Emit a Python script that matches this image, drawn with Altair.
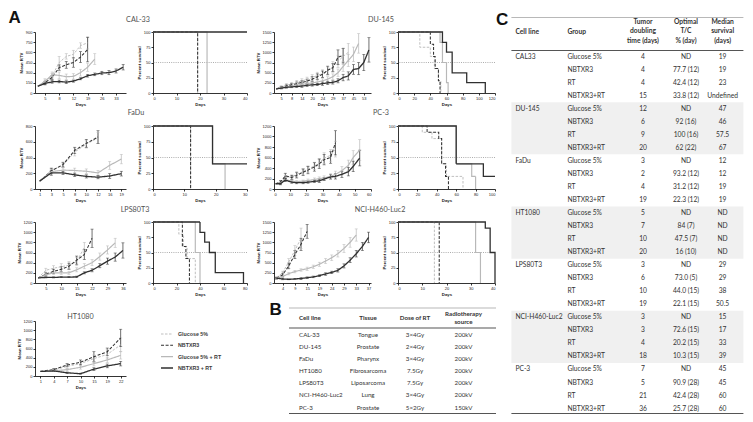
import altair as alt
import pandas as pd

SERIES = ["Glucose 5%", "NBTXR3", "Glucose 5% + RT", "NBTXR3 + RT"]
COLORS = ["#b8b8b8", "#303030", "#b8b8b8", "#303030"]
DASHES = [[2.5, 1.5], [3, 1.6], [1, 0], [1, 0]]
WIDTHS = [0.9, 1.3, 0.9, 1.3]

# ---------------- growth curves (mean RTV) ----------------
cal_days = [1, 5, 6, 8, 10, 12, 15, 19, 22, 26, 29, 33, 36]
cal_ticks = [5, 8, 12, 19, 26, 33]
cal_glu = [100, 180, 250, 450, 540, 570, 700, 740]
cal_glu_err = [0, 30, 40, 90, 40, 60, 40, 90]
cal_nbt = [100, 150, 230, 375, 415, 450, 530, 640]
cal_nbt_err = [0, 20, 30, 40, 50, 70, 80, 180]
cal_rt = [100, 170, 270, 260, 240, 245, 300, 380, 500]
cal_rt_err = [0, 20, 40, 50, 40, 40, 50, 60, 80]
cal_cmb = [100, 140, 165, 170, 160, 175, 210, 255, 275, 295, 300, 325, 380]
cal_cmb_err = [0, 20, 20, 20, 20, 15, 15, 20, 20, 25, 30, 30, 40]

du_days = [1, 5, 6, 8, 12, 14, 17, 20, 22, 24, 27, 29, 33, 37, 41, 45, 49, 53, 56]
du_ticks = [5, 8, 14, 20, 24, 29, 37, 45, 53]
du_glu = [100, 150, 190, 220, 260, 300, 330, 380, 430, 480, 540, 650, 780, 900, 1000]
du_glu_err = [0, 30, 40, 40, 50, 50, 60, 70, 80, 90, 100, 120, 150, 200, 220]
du_nbt = [100, 140, 170, 200, 230, 260, 290, 340, 400, 460, 560, 620, 880, 920]
du_nbt_err = [0, 20, 30, 30, 40, 40, 50, 60, 70, 80, 100, 100, 180, 180]
du_rt = [100, 130, 150, 170, 190, 210, 230, 250, 270, 300, 340, 400, 500, 650, 800, 950, 1220]
du_rt_err = [0, 20, 20, 30, 30, 30, 40, 40, 50, 50, 60, 70, 90, 120, 150, 180, 240]
du_cmb = [100, 120, 140, 150, 160, 170, 190, 200, 210, 230, 250, 260, 300, 380, 420, 580, 600, 750, 1060]
du_cmb_err = [0, 20, 20, 20, 20, 30, 30, 30, 30, 40, 40, 40, 50, 80, 100, 120, 150, 200, 300]

fadu_days = [1, 3, 5, 8, 10, 12, 16, 19]
fadu_ticks = [1, 3, 5, 8, 10, 12, 16, 19]
fadu_glu = [100, 240, 300, 470, 570, 650]
fadu_glu_err = [0, 30, 30, 50, 50, 70]
fadu_nbt = [100, 230, 310, 490, 580, 660]
fadu_nbt_err = [0, 30, 30, 40, 50, 80]
fadu_rt = [100, 220, 240, 235, 225, 205, 300, 380]
fadu_rt_err = [0, 30, 30, 30, 30, 30, 50, 60]
fadu_cmb = [100, 205, 205, 180, 160, 150, 165, 195]
fadu_cmb_err = [0, 30, 20, 20, 20, 20, 30, 30]

pc_days = [1, 4, 7, 11, 14, 18, 21, 25, 28, 31, 35, 38, 42, 46, 49, 53]
pc_ticks = [0, 10, 20, 30, 40, 50, 60]
pc_glu = [100, 120, 220, 230, 280, 330, 380, 440, 500, 590, 640, 760]
pc_glu_err = [0, 30, 40, 40, 50, 60, 60, 70, 80, 100, 110, 150]
pc_nbt = [100, 130, 250, 220, 260, 320, 360, 420, 480, 560, 600, 880]
pc_nbt_err = [0, 30, 50, 40, 50, 60, 70, 80, 90, 100, 110, 230]
pc_rt = [100, 110, 180, 150, 140, 150, 160, 180, 200, 210, 240, 280, 350, 450, 600, 740]
pc_rt_err = [0, 20, 30, 20, 20, 20, 30, 30, 30, 40, 50, 60, 80, 100, 130, 200]
pc_cmb = [100, 100, 170, 130, 120, 120, 130, 145, 155, 190, 230, 240, 280, 330, 430, 590]
pc_cmb_err = [0, 20, 30, 20, 20, 20, 20, 20, 30, 30, 40, 50, 60, 80, 100, 150]

lps_days = [3, 5, 8, 10, 12, 15, 19, 22, 26, 29, 33, 36]
lps_ticks = [5, 10, 15, 22, 29, 36]
lps_glu = [100, 250, 290, 320, 350, 420, 700]
lps_glu_err = [0, 40, 50, 60, 70, 80, 100]
lps_nbt = [100, 170, 230, 270, 330, 450, 560, 880]
lps_nbt_err = [0, 30, 40, 50, 60, 80, 100, 180]
lps_rt = [100, 160, 200, 200, 200, 260, 330, 400, 520, 650, 790]
lps_rt_err = [0, 20, 30, 30, 30, 40, 50, 60, 70, 80, 90]
lps_cmb = [100, 110, 110, 115, 115, 120, 200, 250, 340, 430, 510, 640]
lps_cmb_err = [0, 10, 10, 10, 10, 15, 20, 30, 40, 60, 80, 150]

nci_days = [2, 4, 7, 9, 12, 15, 17, 19, 22, 24, 26, 29, 31, 33, 35, 37]
nci_ticks = [4, 9, 15, 19, 24, 29, 33, 37]
nci_glu = [130, 250, 520, 800, 1100]
nci_glu_err = [20, 40, 80, 120, 250]
nci_nbt = [120, 200, 420, 700, 950, 1270]
nci_nbt_err = [20, 40, 70, 100, 150, 170]
nci_rt = [120, 160, 230, 280, 320, 350, 400, 460, 540, 620, 720, 850, 1000, 1180]
nci_rt_err = [20, 20, 30, 30, 30, 40, 40, 50, 60, 70, 80, 100, 120, 150]
nci_cmb = [120, 100, 90, 100, 110, 130, 150, 180, 220, 260, 310, 420, 560, 720, 900, 1120]
nci_cmb_err = [20, 20, 10, 10, 20, 20, 20, 20, 30, 30, 40, 50, 60, 80, 100, 130]

ht_days = [1, 4, 7, 10, 15, 19, 22]
ht_ticks = [1, 4, 7, 10, 15, 19, 22]
ht_glu = [100, 130, 210, 270, 380, 470, 680]
ht_glu_err = [0, 20, 40, 50, 80, 100, 150]
ht_nbt = [100, 140, 240, 300, 420, 530, 830]
ht_nbt_err = [0, 20, 30, 50, 110, 80, 190]
ht_rt = [100, 110, 140, 190, 270, 350, 450]
ht_rt_err = [0, 15, 30, 40, 50, 60, 80]
ht_cmb = [100, 110, 70, 50, 150, 220, 270]
ht_cmb_err = [0, 15, 15, 10, 30, 40, 50]

# ---------------- survival curves: [day, percent] change points ----------------
cal_surv = [[[0, 100], [19, 0]], [[0, 100], [19, 0]], [[0, 100], [23, 0]], [[0, 100], [40, 100]]]
du_surv = [[[0, 100], [27, 75], [40, 60], [45, 40], [50, 20], [53, 0]],
           [[0, 100], [40, 80], [44, 60], [46, 40], [50, 20], [52, 0]],
           [[0, 100], [52, 83], [55, 50], [60, 17], [62, 0]],
           [[0, 100], [55, 83], [60, 67], [67, 33], [85, 17], [108, 0]]]
fadu_surv = [[[0, 100], [12, 0]], [[0, 100], [12, 0]],
             [[0, 100], [19, 40], [23, 0]], [[0, 100], [19, 40], [30, 40]]]
pc_surv = [[[0, 100], [25, 90], [35, 80], [45, 40], [50, 20], [67, 0]],
           [[0, 100], [30, 90], [42, 80], [45, 40], [49, 20], [52, 0]],
           [[0, 100], [60, 40], [76, 20], [80, 0]],
           [[0, 100], [60, 40], [88, 20], [100, 20]]]
lps_surv = [[[0, 100], [22, 80], [26, 60], [29, 40], [36, 0]],
            [[0, 100], [25, 60], [28, 40], [31, 0]],
            [[0, 100], [36, 50], [40, 0]],
            [[0, 100], [40, 83], [44, 67], [48, 50], [53, 17], [77, 0]]]
nci_surv = [[[0, 100], [15, 0]], [[0, 100], [17, 0]],
            [[0, 100], [32, 50], [34, 0]], [[0, 100], [36, 90], [38, 50], [40, 0]]]

# ---------------- table B ----------------
B_HEAD = ["Cell line", "Tissue", "Dose of RT", "Radiotherapy\nsource"]
b_cells = ["CAL-33", "DU-145", "FaDu", "HT1080", "LPS80T3", "NCI-H460-Luc2", "PC-3"]
b_tissue = ["Tongue", "Prostate", "Pharynx", "Fibrosarcoma", "Liposarcoma", "Lung", "Prostate"]
b_dose = ["3×4Gy", "2×4Gy", "3×4Gy", "7.5Gy", "7.5Gy", "3×4Gy", "5×2Gy"]
b_source = ["200kV", "200kV", "200kV", "200kV", "200kV", "200kV", "150kV"]

# ---------------- table C ----------------
C_HEAD = ["Cell line", "Group", "Tumor\ndoubling\ntime (days)", "Optimal\nT/C\n% (day)", "Median\nsurvival\n(days)"]
c_cells = ["CAL33", "DU-145", "FaDu", "HT1080", "LPS80T3", "NCI-H460-Luc2", "PC-3"]
c_groups = ["Glucose 5%", "NBTXR3", "RT", "NBTXR3+RT"]
c_doubling = [4, 4, 4, 15, 12, 6, 9, 20, 3, 2, 4, 19, 5, 7, 10, 20, 3, 6, 10, 19, 3, 3, 4, 18, 7, 5, 21, 36]
c_optimal = ["ND", "77.7 (12)", "42.4 (12)", "33.8 (12)", "ND", "92 (16)", "100 (16)", "62 (22)",
             "ND", "93.2 (12)", "31.2 (12)", "22.3 (12)", "ND", "84 (7)", "47.5 (7)", "16 (10)",
             "ND", "73.0 (5)", "44.0 (15)", "22.1 (15)", "ND", "72.6 (15)", "20.2 (15)", "10.3 (15)",
             "ND", "90.9 (28)", "42.4 (28)", "25.7 (28)"]
c_median = ["19", "19", "23", "Undefined", "47", "46", "57.5", "67", "12", "12", "19", "19",
            "ND", "ND", "ND", "ND", "29", "29", "38", "50.5", "15", "17", "33", "39",
            "45", "45", "60", "60"]
c_shaded = ["DU-145", "HT1080", "NCI-H460-Luc2"]

AX = "Liberation Sans"
TF = "Lato"


def color_enc():
    return alt.Color("series:N", scale=alt.Scale(domain=SERIES, range=COLORS), legend=None)


def dash_enc():
    return alt.StrokeDash("series:N", scale=alt.Scale(domain=SERIES, range=DASHES), legend=None)


def width_enc():
    return alt.StrokeWidth("series:O", scale=alt.Scale(domain=SERIES, range=WIDTHS), legend=None)


def label_text(t, x, y, size=7.2, align="center"):
    return alt.Chart(pd.DataFrame({"t": [t]})).mark_text(
        align=align, baseline="middle", fontSize=size, font=TF, color="#505050"
    ).encode(text="t:N", x=alt.value(x), y=alt.value(y))


def letter(ch, x, y):
    return alt.Chart(pd.DataFrame({"t": [ch]})).mark_text(
        align="left", baseline="top", fontSize=17, fontWeight="bold", font=AX, color="#111"
    ).encode(text="t:N", x=alt.value(x), y=alt.value(y))


def growth_chart(days, ticks, vals, errs, ymax, yticks, width, height,
                 xquant=None, yrange=None, extra=None):
    rows = []
    for s, v, e in zip(SERIES, vals, errs):
        for i, (vv, ee) in enumerate(zip(v, e)):
            rows.append({"series": s, "day": days[i], "i": i, "v": vv, "lo": vv - ee, "hi": vv + ee})
    df = pd.DataFrame(rows)
    if xquant:
        x = alt.X("day:Q", scale=alt.Scale(domain=xquant, nice=False),
                  axis=alt.Axis(values=ticks, title="Days"))
    else:
        x = alt.X("day:O", scale=alt.Scale(type="point", domain=days, padding=0.4),
                  axis=alt.Axis(values=ticks, title="Days", labelAngle=0))
    sc = {"domain": [0, ymax], "nice": False}
    if yrange:
        sc["range"] = yrange
    ysc = alt.Scale(**sc)
    yax = alt.Axis(values=yticks, title="Mean RTV", format="d")
    base = alt.Chart(df)
    err = base.transform_filter("datum.hi > datum.lo")
    bars = err.mark_rule(strokeWidth=0.7).encode(
        x=x, y=alt.Y("lo:Q", scale=ysc, axis=yax), y2="hi:Q", color=color_enc())
    lo = err.mark_tick(orient="horizontal", size=3, thickness=0.7).encode(
        x=x, y=alt.Y("lo:Q", scale=ysc, axis=yax), color=color_enc())
    hi = err.mark_tick(orient="horizontal", size=3, thickness=0.7).encode(
        x=x, y=alt.Y("hi:Q", scale=ysc, axis=yax), color=color_enc())
    line = base.mark_line().encode(
        x=x, y=alt.Y("v:Q", scale=ysc, axis=yax), color=color_enc(),
        strokeDash=dash_enc(), strokeWidth=width_enc(), order="i:Q")
    layers = [bars, lo, hi, line] + (extra or [])
    return alt.layer(*layers).properties(width=width, height=height)


def surv_chart(curves, xmax, xticks, width, height, extra=None):
    rows = []
    for s, pts in zip(SERIES, curves):
        for k, (d, p) in enumerate(pts):
            rows.append({"series": s, "day": d, "pct": p, "k": k})
    df = pd.DataFrame(rows)
    x = alt.X("day:Q", scale=alt.Scale(domain=[0, xmax], nice=False),
              axis=alt.Axis(values=xticks, title="Days"))
    ysc = alt.Scale(domain=[0, 100], nice=False)
    yax = alt.Axis(values=[0, 25, 50, 75, 100], title="Percent survival")
    half = alt.Chart(pd.DataFrame({"p": [50]})).mark_rule(
        color="#8a8a8a", strokeDash=[1, 1.2], strokeWidth=0.7
    ).encode(y=alt.Y("p:Q", scale=ysc, axis=yax))
    lines = alt.Chart(df).mark_line(interpolate="step-after").encode(
        x=x, y=alt.Y("pct:Q", scale=ysc, axis=yax), color=color_enc(),
        strokeDash=dash_enc(), strokeWidth=width_enc(), order="k:Q")
    return alt.layer(half, lines, *(extra or [])).properties(width=width, height=height)


def hrule(y, x1, x2, color, w):
    return alt.Chart(pd.DataFrame({"a": [0]})).mark_rule(color=color, strokeWidth=w).encode(
        x=alt.value(x1), x2=alt.value(x2), y=alt.value(y))


def head_text(t, x, y, align, size, line_h):
    return alt.Chart(pd.DataFrame({"t": [t]})).mark_text(
        align=align, baseline="middle", font=TF, fontSize=size, fontWeight="bold",
        color="#333", lineBreak="\n", lineHeight=line_h
    ).encode(text="t:N", x=alt.value(x), y=alt.value(y))


def placeholder():
    return alt.Chart(pd.DataFrame({"a": [0]})).mark_point(opacity=0).encode(
        x=alt.value(0), y=alt.value(0)).properties(width=1, height=1)


W1, W2, W3, W4 = 91, 94, 97, 97
H1, H2, H3, H4 = 61, 63, 61, 60
GAP = 27
TY = -12.5

cal_g = growth_chart(cal_days, cal_ticks, [cal_glu, cal_nbt, cal_rt, cal_cmb],
                     [cal_glu_err, cal_nbt_err, cal_rt_err, cal_cmb_err],
                     900, [0, 150, 300, 450, 600, 750, 900], W1, H1,
                     extra=[label_text("CAL-33", 103, TY)])
cal_s = surv_chart(cal_surv, 40, [0, 10, 20, 30, 40], W2, H1,
                   extra=[letter("A", -(W1 + GAP) - 26.6, -22.5)])
du_g = growth_chart(du_days, du_ticks, [du_glu, du_nbt, du_rt, du_cmb],
                    [du_glu_err, du_nbt_err, du_rt_err, du_cmb_err],
                    1500, [0, 250, 500, 750, 1000, 1250, 1500], W3, H1,
                    extra=[label_text("DU-145", 107, TY)])
du_s = surv_chart(du_surv, 120, [0, 20, 40, 60, 80, 100, 120], W4, H1)

fadu_g = growth_chart(fadu_days, fadu_ticks, [fadu_glu, fadu_nbt, fadu_rt, fadu_cmb],
                      [fadu_glu_err, fadu_nbt_err, fadu_rt_err, fadu_cmb_err],
                      800, [0, 200, 400, 600, 800], W1, H2,
                      extra=[label_text("FaDu", 101, TY - 1)])
fadu_s = surv_chart(fadu_surv, 30, [0, 10, 20, 30], W2, H2)
pc_g = growth_chart(pc_days, pc_ticks, [pc_glu, pc_nbt, pc_rt, pc_cmb],
                    [pc_glu_err, pc_nbt_err, pc_rt_err, pc_cmb_err],
                    1200, [0, 200, 400, 600, 800, 1000, 1200], W3, H2,
                    xquant=[0, 60], extra=[label_text("PC-3", 107, TY - 1)])
pc_s = surv_chart(pc_surv, 100, [0, 20, 40, 60, 80, 100], W4, H2)

lps_g = growth_chart(lps_days, lps_ticks, [lps_glu, lps_nbt, lps_rt, lps_cmb],
                     [lps_glu_err, lps_nbt_err, lps_rt_err, lps_cmb_err],
                     1200, [0, 200, 400, 600, 800, 1000, 1200], W1, H3,
                     extra=[label_text("LPS80T3", 100, TY)])
lps_s = surv_chart(lps_surv, 80, [0, 20, 40, 60, 80], W2, H3)
nci_g = growth_chart(nci_days, nci_ticks, [nci_glu, nci_nbt, nci_rt, nci_cmb],
                     [nci_glu_err, nci_nbt_err, nci_rt_err, nci_cmb_err],
                     1500, [0, 250, 500, 750, 1000, 1250, 1500], W3, H3,
                     extra=[label_text("NCI-H460-Luc2", 106, TY)])
nci_s = surv_chart(nci_surv, 40, [0, 10, 20, 30, 40], W4, H3)

ht_g = growth_chart(ht_days, ht_ticks, [ht_glu, ht_nbt, ht_rt, ht_cmb],
                    [ht_glu_err, ht_nbt_err, ht_rt_err, ht_cmb_err],
                    1200, [0, 200, 400, 600, 800, 1000, 1200], W1, H4,
                    yrange=[H4, 5], extra=[label_text("HT1080", W1 / 2, 1)])

# legend
leg_df = pd.DataFrame({"series": SERIES, "k": list(range(len(SERIES)))})
leg_y = alt.Y("k:Q", scale=alt.Scale(domain=[0, 3], range=[18, 52]), axis=None)
leg_lines = alt.Chart(leg_df).mark_rule().encode(
    x=alt.value(8), x2=alt.value(20), y=leg_y, color=color_enc(),
    strokeDash=dash_enc(), strokeWidth=width_enc())
leg_text = alt.Chart(leg_df).mark_text(
    align="left", baseline="middle", font=AX, fontSize=5.3, fontWeight="bold", color="#3a3a3a"
).encode(x=alt.value(25), y=leg_y, text="series:N")
legend = alt.layer(leg_lines, leg_text).properties(width=W2, height=H4)

# table B
b_df = pd.DataFrame({"cell": b_cells, "tissue": b_tissue, "dose": b_dose, "src": b_source,
                     "r": list(range(len(b_cells)))})
b_y = alt.Y("r:Q", scale=alt.Scale(domain=[0, 6], range=[19, 91.5]), axis=None)


def b_col(field, x, align):
    return alt.Chart(b_df).mark_text(align=align, baseline="middle", font=TF, fontSize=6.2,
                                     color="#333").encode(x=alt.value(x), y=b_y, text=f"{field}:N")


tableB = alt.layer(
    hrule(-8, 15, 222, "#9a9a9a", 0.7),
    hrule(12, 15, 222, "#555", 1.1),
    hrule(97.5, 15, 222, "#555", 1.1),
    letter("B", -4.6, -14),
    head_text(B_HEAD[0], 25, 1.5, "left", 6.2, 8),
    head_text(B_HEAD[1], 94, 1.5, "center", 6.2, 8),
    head_text(B_HEAD[2], 141, 1.5, "center", 6.2, 8),
    head_text(B_HEAD[3], 189.5, -2.5, "center", 6.2, 8),
    b_col("cell", 25, "left"), b_col("tissue", 94, "center"),
    b_col("dose", 141, "center"), b_col("src", 189.5, "center"),
).properties(width=W3, height=H4)

# table C
c_rows = []
for ci, cell in enumerate(c_cells):
    for gi, grp in enumerate(c_groups):
        r = ci * len(c_groups) + gi
        c_rows.append({"cell": cell if gi == 0 else "", "group": grp, "dbl": str(c_doubling[r]),
                       "opt": c_optimal[r], "med": c_median[r], "r": r})
c_df = pd.DataFrame(c_rows)
shade_df = pd.DataFrame({"r0": [c_cells.index(c) * 4 - 0.5 for c in c_shaded],
                         "r1": [c_cells.index(c) * 4 + 3.5 for c in c_shaded]})
c_scale = alt.Scale(domain=[0, 27], range=[24.5, 376.6])
c_y = alt.Y("r:Q", scale=c_scale, axis=None)
shade = alt.Chart(shade_df).mark_rect(color="#f0f0f0").encode(
    x=alt.value(-10.6), x2=alt.value(221.4),
    y=alt.Y("r0:Q", scale=c_scale, axis=None), y2="r1:Q")


def c_col(field, x, align):
    return alt.Chart(c_df).mark_text(align=align, baseline="middle", font=TF, fontSize=6.7,
                                     color="#333").encode(x=alt.value(x), y=c_y, text=f"{field}:N")


tableC = alt.layer(
    shade,
    hrule(-14.5, -10.6, 221.4, "#9a9a9a", 0.7),
    hrule(18.5, -10.6, 221.4, "#555", 1.1),
    hrule(381.5, -10.6, 221.4, "#555", 1.1),
    letter("C", -26, -20),
    head_text(C_HEAD[0], -6.6, -0.5, "left", 6.7, 9.8),
    head_text(C_HEAD[1], 45.4, -0.5, "left", 6.7, 9.8),
    head_text(C_HEAD[2], 121, -10.3, "center", 6.7, 9.8),
    head_text(C_HEAD[3], 164, -10.3, "center", 6.7, 9.8),
    head_text(C_HEAD[4], 200.6, -10.3, "center", 6.7, 9.8),
    c_col("cell", -6.6, "left"), c_col("group", 45.4, "left"),
    c_col("dbl", 121, "center"), c_col("opt", 164, "center"), c_col("med", 200.6, "center"),
).properties(width=200, height=H1)

items = [cal_g, cal_s, du_g, du_s, tableC,
         fadu_g, fadu_s, pc_g, pc_s, placeholder(),
         lps_g, lps_s, nci_g, nci_s, placeholder(),
         ht_g, legend, tableB]

chart = alt.concat(
    *items, columns=5, spacing={"row": 33, "column": GAP}, bounds="flush", align="each"
).properties(padding=0).configure_view(stroke=None).configure_axis(
    grid=False, domainColor="#000", domainWidth=0.8, tickColor="#000", tickWidth=0.8,
    tickSize=2, labelFont=AX, labelFontSize=4, labelColor="#222", labelPadding=1,
    titleFont=AX, titleFontSize=4.3, titleFontWeight="bold", titleColor="#222", titlePadding=2
)

chart.save("out.html", embed_options={"renderer": "svg", "actions": False})
